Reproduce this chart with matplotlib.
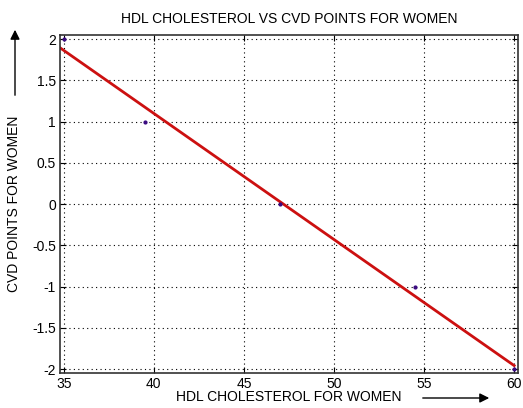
import numpy as np
import matplotlib
matplotlib.use("Agg")
import matplotlib.pyplot as plt

plt.rcParams['font.family'] = ['Liberation Sans', 'DejaVu Sans']

# data
hdl = [35, 39.5, 47, 54.5, 60]
cvd = [2, 1, 0, -1, -2]
xticks = [35, 40, 45, 50, 55, 60]
yticks = [-2, -1.5, -1, -0.5, 0, 0.5, 1, 1.5, 2]

fig = plt.figure(figsize=(5.23, 4.08), dpi=100)
ax = fig.add_axes([0.115, 0.085, 0.875, 0.829])

# least squares line
p = np.polyfit(hdl, cvd, 1)
xs = np.array([34.8, hdl[-1]])
ax.plot(xs, np.polyval(p, xs), color='#cc1010', lw=2)
ax.plot(hdl, cvd, '.', color='#3a0a80', ms=4)

ax.set_xlim(34.8, 60.2)
ax.set_ylim(-2.05, 2.05)
ax.set_xticks(xticks)
ax.set_yticks(yticks)
ax.set_yticklabels([('%g' % t) for t in yticks])
ax.grid(True, linestyle=(0, (1, 3)), color='black', lw=0.8)
ax.tick_params(direction='in', labelsize=10, length=4, right=True, top=True, pad=3)
for s in ax.spines.values():
    s.set_linewidth(1.2)
    s.set_color('#333333')

ax.set_title('HDL CHOLESTEROL VS CVD POINTS FOR WOMEN', fontsize=10, pad=9)
ax.set_xlabel('HDL CHOLESTEROL FOR WOMEN', fontsize=10, labelpad=-1)
ax.set_ylabel('CVD POINTS FOR WOMEN', fontsize=10, labelpad=8)

# arrows next to the labels
fig.add_artist(matplotlib.patches.FancyArrowPatch((420/523, 1 - 398/408), (492/523, 1 - 398/408),
               transform=fig.transFigure, arrowstyle='-|>', mutation_scale=14, color='black', lw=1))
fig.add_artist(matplotlib.patches.FancyArrowPatch((15/523, 1 - 98/408), (15/523, 1 - 27/408),
               transform=fig.transFigure, arrowstyle='-|>', mutation_scale=14, color='black', lw=1))

fig.savefig('out.png', dpi=100)
